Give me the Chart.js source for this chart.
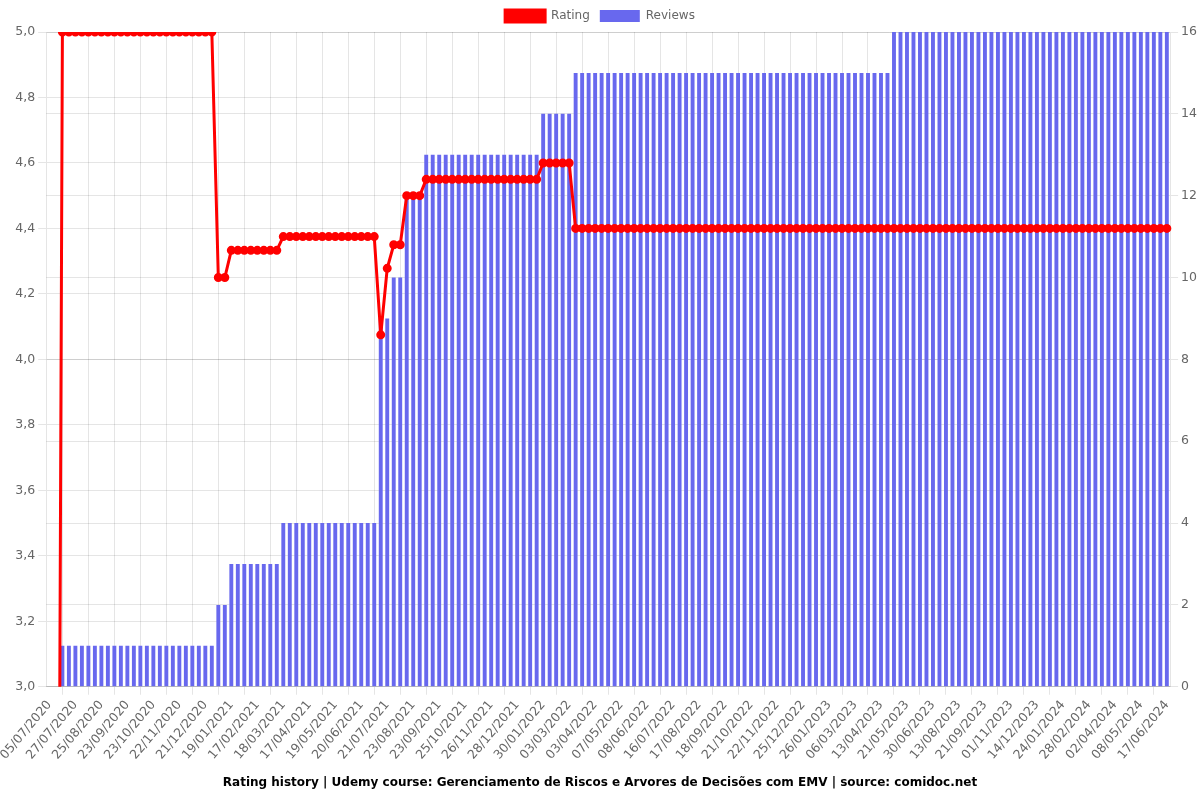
<!DOCTYPE html>
<html>
<head>
<meta charset="utf-8">
<title>Rating history</title>
<script src="https://cdn.jsdelivr.net/npm/chart.js@4"></script>
<style>
  html, body { margin: 0; padding: 0; background: #fff; }
  #wrap { width: 1200px; height: 800px; }
</style>
</head>
<body>
<div id="wrap"><canvas id="ratingChart"></canvas></div>
<script>
// Snapshot dates (x axis)
const dates = [
  "05/07/2020", "10/07/2020", "15/07/2020", "21/07/2020",
  "27/07/2020", "03/08/2020", "10/08/2020", "18/08/2020",
  "25/08/2020", "01/09/2020", "08/09/2020", "16/09/2020",
  "23/09/2020", "30/09/2020", "08/10/2020", "15/10/2020",
  "23/10/2020", "30/10/2020", "07/11/2020", "14/11/2020",
  "22/11/2020", "29/11/2020", "06/12/2020", "14/12/2020",
  "21/12/2020", "28/12/2020", "04/01/2021", "12/01/2021",
  "19/01/2021", "26/01/2021", "02/02/2021", "10/02/2021",
  "17/02/2021", "24/02/2021", "03/03/2021", "11/03/2021",
  "18/03/2021", "25/03/2021", "02/04/2021", "09/04/2021",
  "17/04/2021", "25/04/2021", "03/05/2021", "11/05/2021",
  "19/05/2021", "27/05/2021", "04/06/2021", "12/06/2021",
  "20/06/2021", "28/06/2021", "06/07/2021", "13/07/2021",
  "21/07/2021", "29/07/2021", "06/08/2021", "15/08/2021",
  "23/08/2021", "31/08/2021", "08/09/2021", "15/09/2021",
  "23/09/2021", "01/10/2021", "09/10/2021", "17/10/2021",
  "25/10/2021", "02/11/2021", "10/11/2021", "18/11/2021",
  "26/11/2021", "04/12/2021", "12/12/2021", "20/12/2021",
  "28/12/2021", "05/01/2022", "13/01/2022", "22/01/2022",
  "30/01/2022", "07/02/2022", "15/02/2022", "23/02/2022",
  "03/03/2022", "11/03/2022", "19/03/2022", "26/03/2022",
  "03/04/2022", "11/04/2022", "20/04/2022", "28/04/2022",
  "07/05/2022", "15/05/2022", "23/05/2022", "31/05/2022",
  "08/06/2022", "17/06/2022", "27/06/2022", "06/07/2022",
  "16/07/2022", "24/07/2022", "01/08/2022", "09/08/2022",
  "17/08/2022", "25/08/2022", "02/09/2022", "10/09/2022",
  "18/09/2022", "26/09/2022", "04/10/2022", "13/10/2022",
  "21/10/2022", "29/10/2022", "06/11/2022", "14/11/2022",
  "22/11/2022", "30/11/2022", "08/12/2022", "17/12/2022",
  "25/12/2022", "02/01/2023", "10/01/2023", "18/01/2023",
  "26/01/2023", "04/02/2023", "14/02/2023", "24/02/2023",
  "06/03/2023", "15/03/2023", "25/03/2023", "03/04/2023",
  "13/04/2023", "22/04/2023", "02/05/2023", "11/05/2023",
  "21/05/2023", "31/05/2023", "10/06/2023", "20/06/2023",
  "30/06/2023", "11/07/2023", "22/07/2023", "02/08/2023",
  "13/08/2023", "22/08/2023", "01/09/2023", "11/09/2023",
  "21/09/2023", "01/10/2023", "11/10/2023", "22/10/2023",
  "01/11/2023", "12/11/2023", "23/11/2023", "03/12/2023",
  "14/12/2023", "24/12/2023", "03/01/2024", "14/01/2024",
  "24/01/2024", "02/02/2024", "11/02/2024", "19/02/2024",
  "28/02/2024", "07/03/2024", "16/03/2024", "24/03/2024",
  "02/04/2024", "11/04/2024", "20/04/2024", "29/04/2024",
  "08/05/2024", "18/05/2024", "28/05/2024", "07/06/2024",
  "17/06/2024"
];

// Average rating at each snapshot (left axis)
const ratings = [
  0, 0, 5, 5, 5, 5, 5, 5, 5, 5, 5, 5,
  5, 5, 5, 5, 5, 5, 5, 5, 5, 5, 5, 5, 5, 5,
  4.25, 4.25, 4.333, 4.333, 4.333, 4.333, 4.333, 4.333, 4.333, 4.333,
  4.375, 4.375, 4.375, 4.375, 4.375, 4.375, 4.375, 4.375, 4.375, 4.375, 4.375, 4.375, 4.375, 4.375, 4.375,
  4.075, 4.278, 4.35, 4.35, 4.5, 4.5, 4.5,
  4.55, 4.55, 4.55, 4.55, 4.55, 4.55, 4.55, 4.55, 4.55,
  4.55, 4.55, 4.55, 4.55, 4.55, 4.55, 4.55, 4.55, 4.55,
  4.6, 4.6, 4.6, 4.6, 4.6,
  4.4, 4.4, 4.4, 4.4, 4.4, 4.4, 4.4, 4.4, 4.4, 4.4,
  4.4, 4.4, 4.4, 4.4, 4.4, 4.4, 4.4, 4.4, 4.4, 4.4,
  4.4, 4.4, 4.4, 4.4, 4.4, 4.4, 4.4, 4.4, 4.4, 4.4,
  4.4, 4.4, 4.4, 4.4, 4.4, 4.4, 4.4, 4.4, 4.4, 4.4,
  4.4, 4.4, 4.4, 4.4, 4.4, 4.4, 4.4, 4.4, 4.4, 4.4,
  4.4, 4.4, 4.4, 4.4, 4.4, 4.4, 4.4, 4.4, 4.4, 4.4,
  4.4, 4.4, 4.4, 4.4, 4.4, 4.4, 4.4, 4.4, 4.4, 4.4,
  4.4, 4.4, 4.4, 4.4, 4.4, 4.4, 4.4, 4.4, 4.4, 4.4,
  4.4, 4.4, 4.4, 4.4, 4.4, 4.4, 4.4, 4.4, 4.4, 4.4,
  4.4, 4.4
];

// Number of reviews at each snapshot (right axis)
const reviews = [
  0, 0, 1, 1, 1, 1, 1, 1, 1, 1, 1, 1,
  1, 1, 1, 1, 1, 1, 1, 1, 1, 1, 1, 1, 1, 1,
  2, 2, 3, 3, 3, 3, 3, 3, 3, 3,
  4, 4, 4, 4, 4, 4, 4, 4, 4, 4, 4, 4, 4, 4, 4,
  9, 9, 10, 10, 12, 12, 12,
  13, 13, 13, 13, 13, 13, 13, 13, 13,
  13, 13, 13, 13, 13, 13, 13, 13, 13,
  14, 14, 14, 14, 14,
  15, 15, 15, 15, 15, 15, 15, 15, 15, 15,
  15, 15, 15, 15, 15, 15, 15, 15, 15, 15,
  15, 15, 15, 15, 15, 15, 15, 15, 15, 15,
  15, 15, 15, 15, 15, 15, 15, 15, 15, 15,
  15, 15, 15, 15, 15, 15, 15, 15, 15,
  16, 16, 16, 16, 16, 16, 16, 16, 16, 16,
  16, 16, 16, 16, 16, 16, 16, 16, 16, 16,
  16, 16, 16, 16, 16, 16, 16, 16, 16, 16,
  16, 16, 16, 16, 16, 16, 16, 16, 16, 16,
  16, 16, 16
];

const chartTitle = "Rating history | Udemy course: Gerenciamento de Riscos e Arvores de Decisões com EMV | source: comidoc.net";

Chart.defaults.font.family = "'DejaVu Sans', sans-serif";
Chart.defaults.font.size = 12;
Chart.defaults.color = "#666";

const ctx = document.getElementById("ratingChart");

new Chart(ctx, {
  type: "bar",
  data: {
    labels: dates,
    datasets: [
      {
        type: "line",
        label: "Rating",
        data: ratings,
        yAxisID: "y",
        borderColor: "#ff0000",
        backgroundColor: "#ff0000",
        borderWidth: 3,
        pointRadius: 3,
        pointBackgroundColor: "#ff0000",
        pointBorderColor: "#ff0000",
        tension: 0
      },
      {
        type: "bar",
        label: "Reviews",
        data: reviews,
        yAxisID: "y1",
        backgroundColor: "#6868ee",
        borderColor: "#6868ee",
        barPercentage: 0.75,
        categoryPercentage: 0.8
      }
    ]
  },
  options: {
    responsive: true,
    maintainAspectRatio: false,
    animation: false,
    plugins: {
      legend: { position: "top" },
      title: {
        display: true,
        text: chartTitle,
        position: "bottom",
        color: "#000",
        font: { size: 12, weight: "bold" }
      },
      tooltip: { enabled: false }
    },
    scales: {
      x: {
        ticks: { maxRotation: 50, font: { size: 12.5 } }
      },
      y: {
        position: "left",
        min: 3,
        max: 5,
        ticks: {
          stepSize: 0.2,
          font: { size: 12.5 },
          callback: v => v.toFixed(1).replace(".", ",")
        }
      },
      y1: {
        position: "right",
        min: 0,
        max: 16,
        ticks: { stepSize: 2, font: { size: 12.5 } }
      }
    }
  }
});
</script>
</body>
</html>
